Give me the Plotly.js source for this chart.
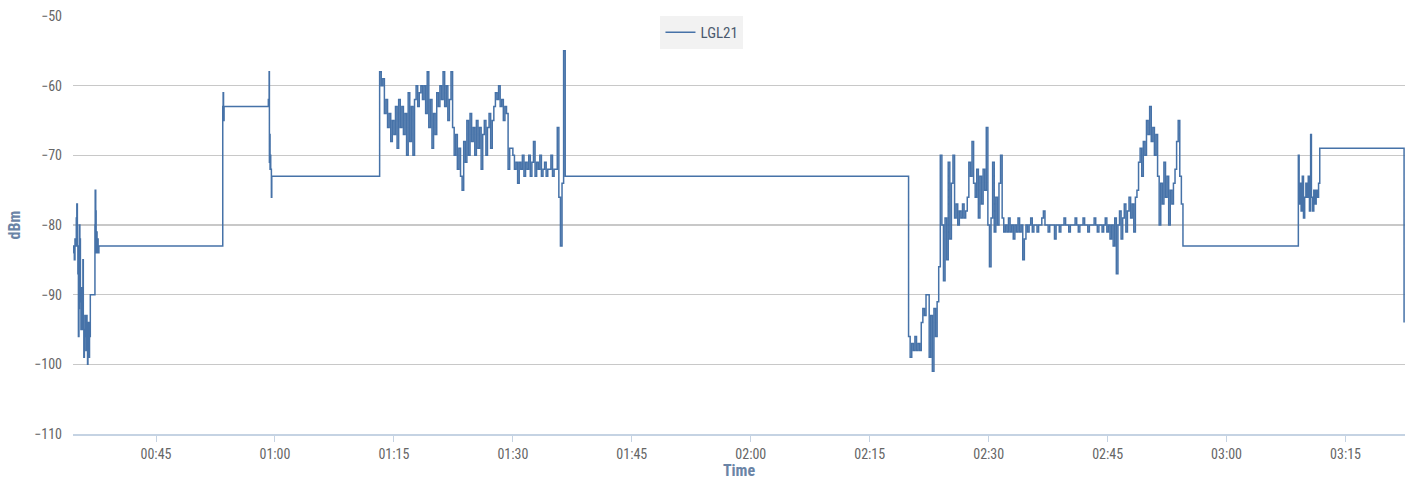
<!DOCTYPE html>
<html>
<head>
<meta charset="utf-8">
<script src="https://cdn.plot.ly/plotly-3.0.1.min.js"></script>
<style>html,body{margin:0;padding:0;background:#fff;}#chart{width:1415px;height:480px;}</style>
</head>
<body>
<div id="chart"></div>
<script>
// Times are minutes after 00:00, values in dBm
const seriesName = 'LGL21';

const startTimes = [34.55,34.62,34.7,34.78,34.85,34.95,35.02,35.08,35.15,35.22,35.28,35.34,35.4,35.47,35.54,35.6,35.66,35.72,35.78,35.84,35.9,35.96,36.03,36.1,36.17,36.23,36.3,36.36,36.42,36.49,36.56,36.62,36.72,37.3,37.34,37.4,37.45,37.5,37.56,37.62,37.7,37.8];
const startValues = [-84,-83,-85,-82,-83,-79,-77,-83,-87,-96,-92,-80,-82,-91,-95,-89,-94,-95,-85,-95,-99,-96,-93,-96,-98,-93,-97,-100,-99,-94,-99,-96,-90,-80,-75,-78,-84,-81,-84,-82,-84,-83];

const stepTimes = [53.42,53.47,53.52,53.58,59.16,59.26,59.3,59.34,59.38,59.42,59.46,59.55,59.6];
const stepValues = [-63,-61,-65,-63,-62,-58,-71,-67,-72,-70,-72,-76,-73];

const midTimes = [
73.2,73.4,73.6,73.8,74,74.2,74.4,74.6,74.8,75,
75.2,75.4,75.6,75.8,76,76.2,76.4,76.6,76.8,77,
77.2,77.4,77.6,77.8,78,78.2,78.4,78.6,78.8,79,
79.2,79.4,79.6,79.8,80,80.2,80.4,80.6,80.8,81,
81.2,81.4,81.6,81.8,82,82.2,82.4,82.6,82.8,83,
83.2,83.4,83.6,83.8,84,84.2,84.4,84.6,84.8,85,
85.2,85.4,85.6,85.8,86,86.2,86.4,86.6,86.8,87,
87.2,87.4,87.6,87.8,88,88.2,88.4,88.6,88.8,89,
89.2,89.4,89.6,89.8,90,90.2,90.4,90.6,90.8,91,
91.2,91.4,91.6,91.8,92,92.2,92.4,92.6,92.8,93,
93.2,93.4,93.6,93.8,94,94.2,94.4,94.6,94.8,95,
95.2,95.4,95.6,95.8,96,96.2,96.4,96.6];
const midValues = [
-58,-60,-59,-64,-62,-66,-64,-68,-65,-67,
-63,-69,-62,-66,-63,-67,-64,-70,-61,-68,
-63,-70,-62,-60,-63,-61,-60,-62,-60,-64,
-58,-66,-62,-69,-64,-67,-61,-63,-60,-62,
-58,-63,-60,-65,-62,-58,-66,-70,-67,-72,
-69,-73,-75,-68,-71,-65,-70,-64,-68,-66,
-70,-65,-69,-66,-72,-67,-65,-70,-66,-64,
-69,-65,-63,-61,-62,-60,-63,-62,-65,-63,
-64,-72,-69,-69,-70,-72,-71,-74,-71,-72,
-70,-73,-71,-72,-70,-73,-71,-68,-73,-71,
-72,-70,-73,-72,-71,-73,-72,-72,-70,-73,
-72,-72,-66,-76,-83,-74,-55,-73];

const lateTimes = [
139.9,140.1,140.3,140.5,140.7,140.9,141.1,141.3,141.5,141.7,
141.9,142.1,142.3,142.5,142.7,142.9,143.1,143.3,143.5,143.7,
143.9,144.1,144.3,144.5,144.7,144.9,145.1,145.3,145.5,145.7,
145.9,146.1,146.3,146.5,146.7,146.9,147.1,147.3,147.5,147.7,
147.9,148.1,148.3,148.5,148.7,148.9,149.1,149.3,149.5,149.7,
149.9,150.1,150.3,150.5,150.7,150.9,151.1,151.3,151.5,151.7,
151.9,152.1,152.3,152.5,152.7,152.9,153.1,153.3,153.5,153.7,
153.9,154.1,154.3,154.5,154.7,154.9,155.1,155.3,155.5,155.7,
155.9,156.1,156.3,156.5,156.7,156.9,157.1,157.3,157.5,157.7,
157.9,158.1,158.3,158.5,158.7,158.9,159.1,159.3,159.5,159.7,
159.9,160.1,160.3,160.5,160.7,160.9,161.1,161.3,161.5,161.7,
161.9,162.1,162.3,162.5,162.7,162.9,163.1,163.3,163.5,163.7,
163.9,164.1,164.3,164.5,164.7,164.9,165.1,165.3,165.5,165.7,
165.9,166.1,166.3,166.5,166.7,166.9,167.1,167.3,167.5,167.7,
167.9,168.1,168.3,168.5,168.7,168.9,169.1,169.3,169.5,169.7,
169.9,170.1,170.3,170.5,170.7,170.9,171.1,171.3,171.5,171.7,
171.9,172.1,172.3,172.5,172.7,172.9,173.1,173.3,173.5,173.7,
173.9,174.1,174.3,174.5];
const lateValues = [
-96,-99,-97,-98,-96,-98,-97,-98,-94,-92,
-93,-90,-90,-99,-93,-101,-92,-96,-91,-86,
-70,-80,-88,-79,-85,-71,-82,-74,-70,-79,
-77,-80,-78,-79,-77,-79,-78,-76,-71,-73,
-68,-74,-76,-72,-79,-73,-77,-72,-75,-66,
-80,-86,-79,-71,-81,-76,-80,-74,-70,-79,
-81,-80,-81,-79,-81,-80,-82,-80,-81,-79,
-81,-80,-85,-82,-80,-81,-80,-79,-81,-80,
-80,-81,-80,-80,-79,-78,-80,-80,-81,-80,
-80,-80,-82,-80,-80,-81,-80,-80,-79,-80,
-80,-81,-80,-80,-80,-79,-80,-81,-80,-80,
-79,-80,-80,-81,-80,-80,-80,-79,-80,-81,
-80,-80,-81,-80,-79,-81,-80,-82,-80,-83,
-79,-87,-80,-78,-82,-79,-77,-81,-78,-76,
-79,-77,-81,-76,-75,-71,-69,-73,-68,-70,
-65,-67,-63,-68,-66,-70,-67,-73,-80,-74,
-77,-71,-76,-73,-80,-75,-77,-74,-72,-68,
-65,-73,-77,-83];

const endTimes = [189.05,189.15,189.25,189.4,189.55,189.7,189.85,190.0,190.15,190.3,190.45,190.6,190.7,190.85,191.0,191.15,191.3,191.45,191.6,191.75,202.38];
const endValues = [-70,-77,-74,-78,-73,-79,-76,-74,-76,-73,-78,-67,-76,-78,-75,-77,-75,-76,-74,-69,-94];

const xRangeMinutes = [34.53, 202.5];

function pad(n){return (n<10?'0':'')+n;}
function toStamp(m){
  const s = Math.round(m*60);
  const h = Math.floor(s/3600), mi = Math.floor((s%3600)/60), se = s%60;
  return '2024-01-01 ' + pad(h)+':'+pad(mi)+':'+pad(se);
}

const allT = [].concat(startTimes, stepTimes, midTimes, lateTimes, endTimes);
const allV = [].concat(startValues, stepValues, midValues, lateValues, endValues);

const FONT = '"Liberation Sans Narrow", "Roboto Condensed", Roboto, "Liberation Sans", sans-serif';

const trace = {
  x: allT.map(toStamp),
  y: allV,
  type: 'scatter',
  mode: 'lines',
  name: seriesName,
  line: {color: '#4672a8', width: 1.5, shape: 'hv'},
  hoverinfo: 'x+y'
};

const layout = {
  width: 1415, height: 480,
  margin: {l: 73, r: 10, t: 16, b: 46, pad: 0},
  paper_bgcolor: '#ffffff', plot_bgcolor: '#ffffff',
  font: {family: FONT, color: '#666666', size: 13},
  showlegend: true,
  legend: {
    x: 0.4722, xanchor: 'center', y: 1.0, yanchor: 'top',
    bgcolor: '#f2f2f2', borderwidth: 0,
    font: {family: FONT, size: 15, color: '#4b5a6e'},
    orientation: 'h'
  },
  xaxis: {
    type: 'date',
    range: xRangeMinutes.map(toStamp),
    tickformat: '%H:%M',
    tick0: '2024-01-01 00:00:00',
    dtick: 15*60*1000,
    showgrid: false,
    zeroline: false,
    showline: true, linecolor: '#c5d3e3', linewidth: 2,
    ticks: 'outside', ticklen: 6, tickwidth: 1, tickcolor: '#c5d3e3',
    tickfont: {family: FONT, size: 14, color: '#666666'},
    title: {text: 'Time', font: {family: FONT, size: 16, color: '#6a84a6', weight: 'bold'}, standoff: 6},
    automargin: false
  },
  yaxis: {
    range: [-110, -50],
    dtick: 10,
    showgrid: true, gridcolor: '#c8c8c8', gridwidth: 1.5,
    zeroline: false,
    showline: false,
    ticks: '',
    ticklabelstandoff: 10,
    tickfont: {family: FONT, size: 14, color: '#666666'},
    title: {text: 'dBm', font: {family: FONT, size: 16, color: '#6a84a6', weight: 'bold'}, standoff: 9},
    automargin: false
  }
};

Plotly.newPlot('chart', [trace], layout, {displayModeBar: false, staticPlot: true});
</script>
</body>
</html>
